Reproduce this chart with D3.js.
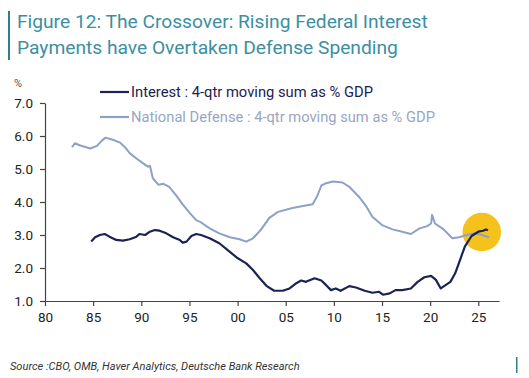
<!DOCTYPE html>
<html><head><meta charset="utf-8">
<script src="https://cdn.jsdelivr.net/npm/d3@7"></script>
<style>body{margin:0;background:#fff}svg{display:block}</style>
</head><body>
<svg id="c" width="529" height="378"></svg>
<script>
const title = ["Figure 12: The Crossover: Rising Federal Interest", "Payments have Overtaken Defense Spending"];
const seriesNames = ["Interest : 4-qtr moving sum as % GDP", "National Defense : 4-qtr moving sum as % GDP"];
const source = "Source :CBO, OMB, Haver Analytics, Deutsche Bank Research";
const xTicks = [1980, 1985, 1990, 1995, 2000, 2005, 2010, 2015, 2020, 2025];
const xTickLabels = ["80", "85", "90", "95", "00", "05", "10", "15", "20", "25"];
const yTicks = [1, 2, 3, 4, 5, 6, 7];
const interestYears = [1984.8,1985.2,1985.7,1986.2,1986.7,1987.4,1988.1,1988.8,1989.5,1989.8,1990.4,1990.9,1991.4,1991.9,1992.6,1993.3,1994.0,1994.3,1994.7,1995.2,1995.7,1996.2,1997.1,1998.1,1999.2,1999.9,2000.9,2001.6,2002.3,2003.0,2003.8,2004.7,2005.4,2006.1,2006.6,2007.1,2008.0,2008.7,2009.2,2009.7,2010.2,2010.7,2011.6,2012.3,2013.2,2014.0,2014.7,2015.1,2015.8,2016.4,2017.1,2018.0,2018.7,2019.4,2020.1,2020.6,2021.1,2021.6,2022.1,2022.6,2023.1,2023.6,2024.3,2025.0,2025.5,2025.8,2026.0];
const interestValues = [2.80,2.93,3.00,3.03,2.95,2.85,2.83,2.87,2.95,3.03,3.00,3.10,3.15,3.13,3.05,2.93,2.85,2.77,2.80,2.97,3.03,3.00,2.90,2.75,2.49,2.32,2.14,1.94,1.69,1.46,1.31,1.31,1.38,1.54,1.62,1.58,1.69,1.62,1.48,1.33,1.38,1.31,1.45,1.41,1.31,1.25,1.28,1.19,1.23,1.33,1.33,1.38,1.58,1.72,1.76,1.64,1.38,1.48,1.58,1.84,2.24,2.65,2.97,3.10,3.13,3.17,3.14];
const defenseYears = [1982.8,1983.1,1983.6,1984.7,1985.4,1985.9,1986.3,1987.1,1987.8,1988.3,1988.8,1989.5,1990.2,1990.7,1990.9,1991.2,1991.8,1992.3,1992.9,1993.6,1994.3,1995.0,1995.7,1996.1,1997.1,1998.1,1999.2,2000.2,2000.9,2001.6,2002.4,2003.3,2004.2,2005.7,2006.8,2007.8,2008.3,2008.7,2009.2,2009.9,2010.9,2011.6,2012.6,2013.4,2014.0,2015.0,2016.1,2017.1,2018.0,2018.9,2019.7,2020.1,2020.2,2020.5,2021.4,2022.3,2023.0,2023.8,2024.7,2025.4,2026.1];
const defenseValues = [5.66,5.78,5.72,5.62,5.70,5.86,5.95,5.88,5.80,5.66,5.48,5.32,5.17,5.07,5.10,4.72,4.52,4.55,4.46,4.21,3.93,3.68,3.45,3.40,3.20,3.05,2.93,2.87,2.80,2.90,3.15,3.52,3.70,3.82,3.88,3.93,4.20,4.50,4.57,4.62,4.59,4.46,4.16,3.85,3.55,3.30,3.17,3.10,3.03,3.20,3.27,3.35,3.61,3.35,3.17,2.90,2.93,3.00,3.05,3.00,2.93];

const svg = d3.select("#c");
const font = "Roboto, 'Liberation Sans', Arial, sans-serif";
const x = d3.scaleLinear().domain([1980, 2027.15]).range([45, 499]);
const y = d3.scaleLinear().domain([1, 7]).range([301, 103]);

function fit(sel, target) {
  const fs = +sel.attr("font-size");
  const w = sel.node().getComputedTextLength();
  if (w > 0) sel.attr("font-size", (fs * target / w).toFixed(2));
  return sel;
}

// title
svg.append("rect").attr("x", 8).attr("y", 11).attr("width", 2).attr("height", 49).attr("fill", "#2f7d8f");
const titleW = [411, 381];
title.forEach((t, i) => fit(svg.append("text").attr("x", 17).attr("y", 28 + i * 26)
  .attr("font-family", font).attr("font-size", 18.5).attr("fill", "#3b8fa2").text(t), titleW[i]));

// highlight circle
svg.append("circle").attr("cx", x(2025.36)).attr("cy", y(3.09)).attr("r", 19.3).attr("fill", "#f5c21b");

// axes
const gy = svg.append("g").attr("transform", "translate(45,0)")
  .call(d3.axisLeft(y).tickValues(yTicks).tickSize(5).tickPadding(7).tickFormat(d3.format(".1f")).tickSizeOuter(0));
const gx = svg.append("g").attr("transform", "translate(0,301)")
  .call(d3.axisBottom(x).tickValues(xTicks).tickSize(5).tickPadding(6).tickFormat((d, i) => xTickLabels[i]).tickSizeOuter(0));
[gx, gy].forEach(g => {
  g.selectAll("path,line").attr("stroke", "#444").attr("stroke-width", 1.2);
  g.selectAll("text").attr("font-family", font).attr("font-size", 13.5).attr("fill", "#222");
});
svg.append("text").attr("x", 14).attr("y", 87).attr("font-family", font).attr("font-size", 11).attr("fill", "#555").text("%");

// lines
const line = d3.line().x(d => x(d[0])).y(d => y(d[1]));
svg.append("path").datum(d3.zip(defenseYears, defenseValues)).attr("d", line)
  .attr("fill", "none").attr("stroke", "#8da1c6").attr("stroke-width", 2).attr("stroke-linejoin", "round");
svg.append("path").datum(d3.zip(interestYears, interestValues)).attr("d", line)
  .attr("fill", "none").attr("stroke", "#1a2352").attr("stroke-width", 2.2).attr("stroke-linejoin", "round");

// legend
const legColors = ["#1a2352", "#8da1c6"], legText = ["#1a2352", "#98a6c2"], legW = [242, 304];
seriesNames.forEach((n, i) => {
  const yy = 92 + i * 25;
  svg.append("line").attr("x1", 100).attr("x2", 129).attr("y1", yy).attr("y2", yy)
    .attr("stroke", legColors[i]).attr("stroke-width", 2.2);
  fit(svg.append("text").attr("x", 131).attr("y", yy + 5).attr("font-family", font).attr("font-size", 13.3)
    .attr("fill", legText[i]).text(n), legW[i]);
});

// source
fit(svg.append("text").attr("x", 10).attr("y", 370).attr("font-family", font).attr("font-size", 9.5)
  .attr("font-style", "italic").attr("fill", "#333").text(source), 290);
svg.append("rect").attr("x", 516).attr("y", 357).attr("width", 1.5).attr("height", 16).attr("fill", "#2f7d8f");
</script>
</body></html>
